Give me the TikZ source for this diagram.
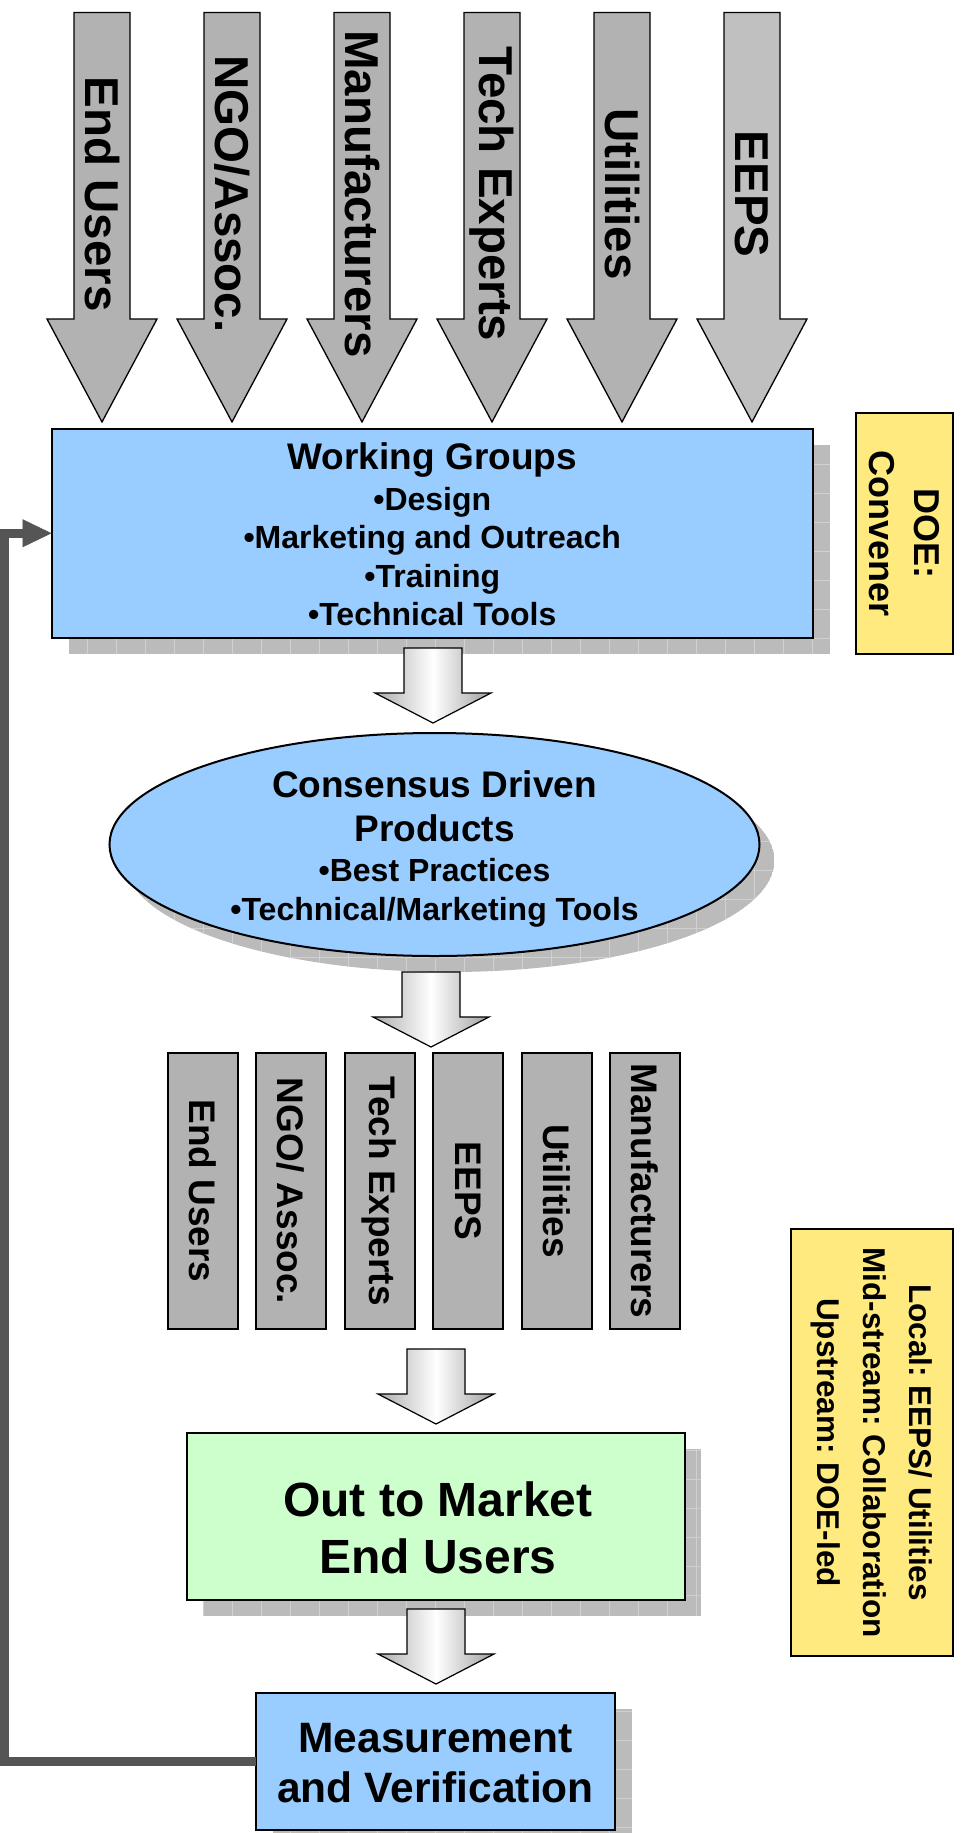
\documentclass[tikz,border=0pt]{standalone}
\usepackage{fontspec}
\setmainfont{Liberation Sans}
\usetikzlibrary{arrows.meta,shapes.geometric}
\definecolor{boxblue}{HTML}{99CCFF}
\definecolor{boxgreen}{HTML}{CCFFCC}
\definecolor{noteyellow}{HTML}{FFEA80}
\definecolor{arrowgray}{HTML}{B2B2B2}
\definecolor{arrowgraylight}{HTML}{C0C0C0}
\definecolor{shadowgray}{HTML}{BBBBBB}
\definecolor{gridgray}{HTML}{D0D0D0}
\definecolor{fbgray}{HTML}{555555}
\frenchspacing
\newcommand{\fsz}[2]{\fontsize{#1}{#2}\selectfont\bfseries}
\newcommand{\toparrow}[2]{%
  \path[toparrowpath, fill=#2] ({#1-28},12.5) -- ({#1+28},12.5) -- ({#1+28},319) -- ({#1+55},319) -- (#1,422) -- ({#1-55},319) -- ({#1-28},319) -- cycle;}
\newcommand{\blockarrow}[2]{%
  \path[blockarrowpath] ({#1-29},#2) -- ({#1+29},#2) -- ({#1+29},{#2+45}) -- ({#1+58},{#2+45}) -- (#1,{#2+75}) -- ({#1-58},{#2+45}) -- ({#1-29},{#2+45}) -- cycle;}
\newcommand{\gridshadow}[4]{%
  \begin{scope}
    \clip (#1,#2) rectangle (#3,#4);
    \fill[shadowgray] (#1,#2) rectangle (#3,#4);
    \draw[gridgray, line width=1pt, step=29pt] (#1,#2) grid (#3,#4);
  \end{scope}}
\newcommand{\wgtext}{\fsz{32}{38.5}\begin{tabular}[t]{@{}c@{}}{\fsz{37}{38.5}Working Groups}\\[2.5pt]
  •Design\\ •Marketing and Outreach\\ •Training\\ •Technical Tools\end{tabular}}
\newcommand{\cdtext}{\fsz{32}{39.5}\begin{tabular}[t]{@{}c@{}}{\fsz{37}{39.5}Consensus Driven}\\[4pt]
  {\fsz{37}{39.5}Products}\\[0.5pt] •Best Practices\\ •Technical/Marketing Tools\end{tabular}}
\begin{document}
\begin{tikzpicture}[x=1pt,y=-1pt,
  boxnode/.style={draw=black, line width=2pt, inner sep=0pt, outer sep=0pt},
  rottext/.style={rotate=-90, inner sep=0pt, align=center},
  basetext/.style={inner sep=0pt, anchor=base},
  toparrowpath/.style={draw=black, line width=1.3pt},
  blockarrowpath/.style={draw=black, line width=1.2pt, left color=gray!65, right color=gray!75, middle color=white},
  feedback/.style={draw=fbgray, line width=9pt, line join=miter},
]
\useasboundingbox (0,0) rectangle (964,1833);
\fill[white] (0,0) rectangle (964,1833);

% ---- top input arrows ----
\toparrow{102}{arrowgray}
\toparrow{232}{arrowgray}
\toparrow{362}{arrowgray}
\toparrow{492}{arrowgray}
\toparrow{622}{arrowgray}
\toparrow{752}{arrowgraylight}
\node[rottext, font=\fsz{47.5}{57}] (inEnd) at (102,194) {End Users};
\node[rottext, font=\fsz{47.5}{57}] (inNGO) at (232,194) {NGO/Assoc.};
\node[rottext, font=\fsz{47.5}{57}] (inMan) at (362,194) {Manufacturers};
\node[rottext, font=\fsz{47.5}{57}] (inTech) at (492,194) {Tech Experts};
\node[rottext, font=\fsz{47.5}{57}] (inUtil) at (622,194) {Utilities};
\node[rottext, font=\fsz{47.5}{57}] (inEEPS) at (752,194) {EEPS};

% ---- shadows ----
\gridshadow{68.5}{445}{830}{653.5}
\begin{scope}
  \clip (449.5,860.5) ellipse [x radius=325, y radius=111.5];
  \fill[shadowgray] (449.5,860.5) ellipse [x radius=325, y radius=111.5];
  \draw[gridgray, line width=1pt, step=29pt] (120,745) grid (780,975);
\end{scope}
\gridshadow{203}{1449}{701}{1616}
\gridshadow{273}{1709}{632}{1846}

% ---- working groups ----
\node[boxnode, fill=boxblue, minimum width=761.5, minimum height=208.5] (wg) at (432.25,533.25) {};
\node[basetext] (wgt) at (432.25,469) {\wgtext};

% ---- DOE convener ----
\node[boxnode, fill=noteyellow, minimum width=97, minimum height=241] (doe) at (904.5,533.5) {};
\node[rottext, font=\fsz{36}{45}] (doet) at (doe.center) {DOE:\\Convener};

% ---- block arrow 1 ----
\blockarrow{433}{648}

% ---- consensus ellipse ----
\node[ellipse, draw=black, line width=2pt, fill=boxblue, inner sep=0pt, minimum width=650, minimum height=223] (cd) at (434.5,844.5) {};
\node[basetext] (cdt) at (434.5,797.5) {\cdtext};

% ---- block arrow 2 ----
\blockarrow{431}{972}

% ---- stakeholder boxes ----
\foreach \cx/\lab/\nm in {202.5/{End Users}/sEnd, 291/{NGO/ Assoc.}/sNGO, 379.5/{Tech Experts}/sTech, 468/{EEPS}/sEEPS, 556.5/{Utilities}/sUtil, 645/{Manufacturers}/sMan}{
  \node[draw=black, line width=2pt, fill=arrowgray, minimum width=70, minimum height=276, inner sep=0pt] (\nm) at (\cx,1191) {};
  \node[rottext, font=\fsz{37}{44}] (\nm t) at (\cx,1191) {\lab};
}

% ---- block arrow 3 ----
\blockarrow{436}{1349}

% ---- out to market ----
\node[boxnode, fill=boxgreen, minimum width=498, minimum height=167] (out) at (436,1516.5) {};
\node[basetext, font=\fsz{48}{57}] (outt1) at (438,1516.5) {Out to Market};
\node[basetext, font=\fsz{48}{57}] (outt2) at (438,1573.5) {End Users};

% ---- block arrow 4 ----
\blockarrow{436}{1609}

% ---- measurement ----
\node[boxnode, fill=boxblue, minimum width=359, minimum height=137] (meas) at (435.5,1761.5) {};
\node[basetext, font=\fsz{42.5}{50.5}] (meast1) at (435.5,1752) {Measurement};
\node[basetext, font=\fsz{42.5}{50.5}] (meast2) at (435.5,1802.5) {and Verification};

% ---- local/mid/upstream note ----
\node[boxnode, fill=noteyellow, minimum width=162, minimum height=427] (lvl) at (872,1442.5) {};
\node[rottext, font=\fsz{31.5}{46}] (lvlt) at (lvl.center) {Local: EEPS/ Utilities\\Mid-stream: Collaboration\\Upstream: DOE-led};

% ---- feedback loop ----
\coordinate (fbx) at (4.5,0);
\draw[feedback, -{Triangle[length=29pt,width=28pt,line width=0.5pt]}] (meas.west) -- (meas.west -| fbx) -- (wg.west -| fbx) -- (wg.west);
\end{tikzpicture}
\end{document}
